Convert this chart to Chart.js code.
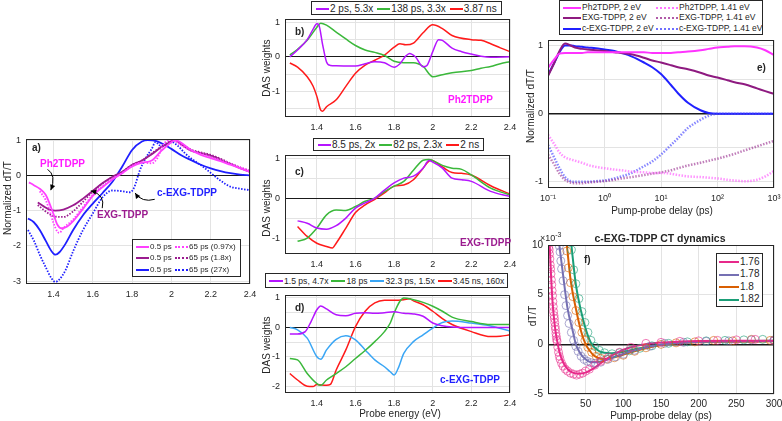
<!DOCTYPE html>
<html lang="en">
<head>
<meta charset="UTF-8">
<title>TDPP transient absorption</title>
<script src="https://cdn.jsdelivr.net/npm/chart.js@4.4.0/dist/chart.umd.min.js"></script>
<style>
    * { margin: 0; padding: 0; box-sizing: border-box; }
    body { background: #fff; font-family: "Liberation Sans", Arial, sans-serif; color: #262626; }
    #fig { position: relative; width: 782px; height: 421px; overflow: hidden; }
    canvas { position: absolute; }
    .t { position: absolute; white-space: nowrap; font-size: 10px; line-height: 1; }
    .c { transform: translate(-50%, -50%); }
    .v { transform: translate(-50%, -50%) rotate(-90deg); }
    .b { font-weight: bold; }
    .lg { position: absolute; border: 1px solid #262626; background: #fff; font-size: 10px;
          display: flex; align-items: center; gap: 4px; padding: 0 4px; white-space: nowrap; }
    .sw { display: inline-block; width: 13px; border-top: 2px solid; vertical-align: middle; margin-right: 1px; }
    .dot { border-top-style: dotted; }
    .grid3 { display: grid; align-items: center; }
</style>
</head>
<body>
<div id="fig">
    <canvas id="ca"></canvas>
    <canvas id="cb"></canvas>
    <canvas id="cc"></canvas>
    <canvas id="cd"></canvas>
    <canvas id="ce"></canvas>
    <canvas id="cf"></canvas>

    <!-- panel a -->
    <div class="t v" style="left:8px;top:198px">Normalized dT/T</div>
    <div class="t b" style="left:32px;top:143px">a)</div>
    <div class="t b" style="left:40px;top:159px;color:#ff1aff">Ph2TDPP</div>
    <div class="t b" style="left:97px;top:210px;color:#9b1b8f">EXG-TDPP</div>
    <div class="t b" style="left:157px;top:188px;color:#1f1fff">c-EXG-TDPP</div>
    <div class="lg grid3" style="left:132px;top:239px;width:109px;height:38px;font-size:8px;grid-template-columns:auto auto;gap:0 2px;padding:1px 3px">
        <span><i class="sw" style="border-color:#ff40ff"></i>0.5 ps</span><span><i class="sw dot" style="border-color:#ff40ff"></i>65 ps (0.97x)</span>
        <span><i class="sw" style="border-color:#9b1b8f"></i>0.5 ps</span><span><i class="sw dot" style="border-color:#9b1b8f"></i>65 ps (1.8x)</span>
        <span><i class="sw" style="border-color:#1f1fff"></i>0.5 ps</span><span><i class="sw dot" style="border-color:#1f1fff"></i>65 ps (27x)</span>
    </div>

    <!-- panels b, c, d -->
    <div class="lg" style="left:311px;top:1px;height:14px">
        <span><i class="sw" style="border-color:#b515ff"></i>2 ps, 5.3x</span>
        <span><i class="sw" style="border-color:#3bb83b"></i>138 ps, 3.3x</span>
        <span><i class="sw" style="border-color:#ff1a1a"></i>3.87 ns</span>
    </div>
    <div class="t v" style="left:267px;top:68px">DAS weights</div>
    <div class="t b" style="left:295px;top:27px">b)</div>
    <div class="t b" style="left:448px;top:95px;color:#ff1aff">Ph2TDPP</div>

    <div class="lg" style="left:313px;top:138px;height:13px">
        <span><i class="sw" style="border-color:#b515ff"></i>8.5 ps, 2x</span>
        <span><i class="sw" style="border-color:#3bb83b"></i>82 ps, 2.3x</span>
        <span><i class="sw" style="border-color:#ff1a1a"></i>2 ns</span>
    </div>
    <div class="t v" style="left:267px;top:208px">DAS weights</div>
    <div class="t b" style="left:295px;top:167px">c)</div>
    <div class="t b" style="left:460px;top:238px;color:#9b1b8f">EXG-TDPP</div>

    <div class="lg" style="left:265px;top:273px;height:15px;font-size:8.6px;gap:3px;padding:0 3px">
        <span><i class="sw" style="width:14px;border-color:#b515ff"></i>1.5 ps, 4.7x</span>
        <span><i class="sw" style="width:14px;border-color:#3bb83b"></i>18 ps</span>
        <span><i class="sw" style="width:14px;border-color:#3aa6f5"></i>32.3 ps, 1.5x</span>
        <span><i class="sw" style="width:14px;border-color:#ff1a1a"></i>3.45 ns, 160x</span>
    </div>
    <div class="t v" style="left:267px;top:345px">DAS weights</div>
    <div class="t b" style="left:295px;top:303px">d)</div>
    <div class="t b" style="left:440px;top:375px;color:#1f1fff">c-EXG-TDPP</div>
    <div class="t c" style="left:400px;top:414px">Probe energy (eV)</div>

    <!-- panel e -->
    <div class="lg grid3" style="left:559px;top:0px;width:204px;height:35px;font-size:8.5px;grid-template-columns:93px auto;gap:0 0;padding:1px 3px">
        <span><i class="sw" style="width:18px;border-color:#ff33ff"></i>Ph2TDPP, 2 eV</span><span><i class="sw dot" style="width:22px;border-color:#ff77ff"></i>Ph2TDPP, 1.41 eV</span>
        <span><i class="sw" style="width:18px;border-color:#8e1a80"></i>EXG-TDPP, 2 eV</span><span><i class="sw dot" style="width:22px;border-color:#b05aa8"></i>EXG-TDPP, 1.41 eV</span>
        <span><i class="sw" style="width:18px;border-color:#2020ff"></i>c-EXG-TDPP, 2 eV</span><span><i class="sw dot" style="width:22px;border-color:#6f6fff"></i>c-EXG-TDPP, 1.41 eV</span>
    </div>
    <div class="t v" style="left:531px;top:106px">Normalized dT/T</div>
    <div class="t b" style="left:757px;top:63px">e)</div>
    <div class="t c" style="left:662px;top:211px">Pump-probe delay (ps)</div>

    <!-- panel f -->
    <div class="t c b" style="left:660px;top:238px;font-size:10.5px">c-EXG-TDPP CT dynamics</div>
    <div class="t" style="left:540px;top:231px;font-size:9px">×10<sup style="font-size:7px">-3</sup></div>
    <div class="t v" style="left:533px;top:316px">dT/T</div>
    <div class="t b" style="left:584px;top:255px">f)</div>
    <div class="lg grid3" style="left:716px;top:253px;width:47px;height:54px;gap:0;padding:1px 2px;grid-template-rows:repeat(4,1fr)">
        <span><i class="sw" style="width:20px;border-color:#e7298a"></i>1.76</span>
        <span><i class="sw" style="width:20px;border-color:#7570b3"></i>1.78</span>
        <span><i class="sw" style="width:20px;border-color:#d95f02"></i>1.8</span>
        <span><i class="sw" style="width:20px;border-color:#1b9e77"></i>1.82</span>
    </div>
    <div class="t c" style="left:661px;top:416px">Pump-probe delay (ps)</div>
</div>

<script>
// ---------- panel a: normalized spectra (probe energy, eV) ----------
const aPh2X  = [1.275, 1.3, 1.33, 1.36, 1.38, 1.4, 1.42, 1.44, 1.47, 1.5, 1.55, 1.6, 1.65, 1.7, 1.75, 1.8, 1.85, 1.9, 1.95, 2.0, 2.02, 2.05, 2.1, 2.15, 2.2, 2.25, 2.3, 2.35, 2.4];
const aPh2Y  = [-0.2, -0.28, -0.38, -0.55, -0.8, -1.1, -1.4, -1.5, -1.45, -1.3, -0.95, -0.58, -0.33, -0.12, 0.06, 0.25, 0.36, 0.42, 0.7, 0.94, 1.0, 0.92, 0.72, 0.58, 0.49, 0.4, 0.3, 0.2, 0.1];
const aPh2dX = [1.33, 1.36, 1.38, 1.4, 1.42, 1.43, 1.45, 1.5, 1.55, 1.6, 1.65, 1.7, 1.75, 1.8, 1.85, 1.9, 1.93, 1.96, 2.0, 2.05, 2.1, 2.15, 2.2, 2.25, 2.3, 2.35, 2.4];
const aPh2dY = [-0.45, -0.7, -1.0, -1.35, -1.6, -1.63, -1.5, -1.25, -0.9, -0.55, -0.3, -0.1, 0.07, 0.27, 0.37, 0.34, 0.5, 0.88, 1.0, 0.85, 0.7, 0.62, 0.52, 0.43, 0.33, 0.23, 0.14];
const aExgX  = [1.32, 1.35, 1.38, 1.41, 1.45, 1.5, 1.55, 1.6, 1.65, 1.7, 1.75, 1.8, 1.85, 1.9, 1.95, 2.0, 2.02, 2.05, 2.1, 2.15, 2.2, 2.25, 2.3, 2.35, 2.4];
const aExgY  = [-0.77, -0.88, -0.97, -1.0, -0.97, -0.85, -0.66, -0.44, -0.22, -0.04, 0.1, 0.3, 0.42, 0.6, 0.8, 0.96, 0.99, 0.88, 0.7, 0.63, 0.56, 0.45, 0.32, 0.2, 0.1];
const aExgdY = [-0.84, -0.98, -1.1, -1.17, -1.18, -1.02, -0.75, -0.46, -0.23, -0.05, 0.1, 0.3, 0.42, 0.62, 0.82, 0.98, 1.0, 0.9, 0.73, 0.65, 0.58, 0.47, 0.34, 0.22, 0.12];
const aCexX  = [1.27, 1.3, 1.33, 1.36, 1.39, 1.41, 1.43, 1.46, 1.5, 1.55, 1.6, 1.65, 1.7, 1.75, 1.8, 1.85, 1.88, 1.92, 1.96, 2.0, 2.05, 2.1, 2.15, 2.2, 2.25, 2.3, 2.35, 2.4];
const aCexY  = [-1.22, -1.33, -1.55, -1.85, -2.15, -2.25, -2.18, -1.95, -1.55, -1.13, -0.8, -0.5, -0.18, 0.25, 0.72, 0.96, 1.0, 0.98, 0.88, 0.75, 0.57, 0.43, 0.3, 0.2, 0.12, 0.06, 0.02, 0.0];
const aCexdX = [1.27, 1.3, 1.33, 1.36, 1.39, 1.41, 1.43, 1.46, 1.5, 1.55, 1.6, 1.65, 1.7, 1.75, 1.79, 1.81, 1.84, 1.87, 1.9, 1.92, 1.94, 1.97, 2.0, 2.03, 2.07, 2.1, 2.15, 2.2, 2.25, 2.3, 2.35, 2.4];
const aCexdY = [-1.55, -1.85, -2.25, -2.6, -2.92, -3.02, -2.95, -2.7, -2.15, -1.55, -1.08, -0.62, -0.43, -0.45, -0.48, -0.35, 0.15, 0.5, 0.75, 0.95, 0.85, 0.85, 0.95, 0.85, 0.62, 0.48, 0.29, 0.07, -0.15, -0.32, -0.38, -0.42];

// ---------- panel b: Ph2TDPP DAS ----------
const bPurX = [1.26, 1.3, 1.35, 1.38, 1.4, 1.41, 1.43, 1.45, 1.47, 1.5, 1.6, 1.65, 1.7, 1.75, 1.8, 1.83, 1.86, 1.88, 1.91, 1.95, 1.97, 2.0, 2.03, 2.05, 2.1, 2.15, 2.2, 2.25, 2.3, 2.4];
const bPurY = [0.0, 0.2, 0.5, 0.8, 0.96, 0.93, 0.35, -0.15, -0.25, -0.26, -0.27, -0.2, -0.14, -0.17, -0.3, -0.2, 0.02, 0.1, 0.0, -0.29, -0.25, 0.15, 0.5, 0.48, 0.25, 0.15, 0.08, 0.02, -0.01, 0.0];
const bGrnX = [1.26, 1.3, 1.35, 1.4, 1.42, 1.45, 1.5, 1.55, 1.6, 1.65, 1.7, 1.75, 1.8, 1.85, 1.9, 1.95, 2.0, 2.05, 2.1, 2.2, 2.25, 2.3, 2.35, 2.4];
const bGrnY = [0.05, 0.22, 0.48, 0.86, 0.98, 0.92, 0.72, 0.52, 0.33, 0.2, 0.13, 0.04, -0.13, -0.17, -0.17, -0.28, -0.58, -0.52, -0.46, -0.4, -0.33, -0.28, -0.2, -0.14];
const bRedX = [1.26, 1.3, 1.35, 1.38, 1.4, 1.42, 1.43, 1.45, 1.5, 1.55, 1.6, 1.65, 1.7, 1.75, 1.8, 1.83, 1.86, 1.9, 1.95, 2.0, 2.05, 2.1, 2.2, 2.25, 2.3, 2.35, 2.4];
const bRedY = [-0.18, -0.3, -0.58, -0.85, -1.15, -1.55, -1.58, -1.45, -1.25, -0.86, -0.48, -0.24, -0.1, 0.05, 0.28, 0.38, 0.35, 0.4, 0.7, 0.93, 0.82, 0.62, 0.5, 0.48, 0.38, 0.26, 0.15];

// ---------- panel c: EXG-TDPP DAS ----------
const cX    = [1.3, 1.35, 1.4, 1.45, 1.5, 1.55, 1.6, 1.65, 1.7, 1.75, 1.8, 1.85, 1.9, 1.95, 1.98, 2.0, 2.05, 2.1, 2.15, 2.2, 2.3, 2.4];
const cPurY = [-0.57, -0.63, -0.75, -0.78, -0.69, -0.5, -0.25, -0.12, 0.0, 0.2, 0.38, 0.5, 0.55, 0.75, 0.94, 0.9, 0.75, 0.5, 0.46, 0.42, 0.17, 0.04];
const cGrnY = [-1.08, -1.0, -0.75, -0.42, -0.3, -0.31, -0.21, -0.08, 0.0, 0.16, 0.3, 0.42, 0.7, 0.95, 0.97, 0.94, 0.82, 0.75, 0.72, 0.58, 0.25, 0.08];
const cRedX = [1.3, 1.35, 1.4, 1.45, 1.48, 1.5, 1.55, 1.6, 1.65, 1.7, 1.75, 1.8, 1.85, 1.9, 1.95, 1.99, 2.05, 2.1, 2.15, 2.2, 2.3, 2.4];
const cRedY = [-0.71, -0.96, -1.13, -1.21, -1.25, -1.13, -0.75, -0.36, -0.17, -0.03, 0.13, 0.3, 0.33, 0.46, 0.75, 0.95, 0.78, 0.64, 0.62, 0.58, 0.31, 0.1];

// ---------- panel d: c-EXG-TDPP DAS ----------
const dPurX = [1.26, 1.3, 1.34, 1.37, 1.4, 1.42, 1.45, 1.5, 1.55, 1.6, 1.65, 1.7, 1.75, 1.8, 1.85, 1.9, 1.95, 2.0, 2.05, 2.1, 2.2, 2.3, 2.4];
const dPurY = [-0.22, -0.22, -0.14, 0.2, 0.6, 0.73, 0.63, 0.43, 0.4, 0.48, 0.5, 0.48, 0.5, 0.53, 0.48, 0.46, 0.38, 0.15, 0.06, 0.02, 0.0, 0.0, 0.0];
const dGrnX = [1.26, 1.3, 1.35, 1.4, 1.42, 1.45, 1.5, 1.55, 1.6, 1.65, 1.7, 1.75, 1.78, 1.8, 1.83, 1.85, 1.9, 1.95, 2.0, 2.05, 2.1, 2.2, 2.3, 2.4];
const dGrnY = [-1.05, -1.1, -1.56, -1.9, -1.96, -1.78, -1.56, -1.33, -1.05, -0.78, -0.48, -0.14, 0.15, 0.49, 0.89, 1.0, 0.94, 0.85, 0.72, 0.55, 0.35, 0.2, 0.1, 0.1];
const dBluX = [1.26, 1.3, 1.35, 1.4, 1.42, 1.45, 1.5, 1.55, 1.6, 1.65, 1.7, 1.75, 1.78, 1.8, 1.82, 1.85, 1.9, 1.95, 2.0, 2.05, 2.1, 2.2, 2.3, 2.4];
const dBluY = [0.0, -0.08, -0.36, -0.99, -1.08, -0.76, -0.4, -0.28, -0.42, -0.76, -1.1, -1.33, -1.5, -1.61, -1.4, -0.88, -0.48, -0.25, -0.02, 0.17, 0.22, 0.15, 0.05, -0.12];
const dRedX = [1.26, 1.3, 1.35, 1.38, 1.4, 1.45, 1.47, 1.5, 1.55, 1.6, 1.65, 1.7, 1.75, 1.8, 1.85, 1.88, 1.9, 1.95, 2.0, 2.05, 2.1, 2.2, 2.3, 2.35, 2.4];
const dRedY = [-1.56, -1.78, -1.99, -2.0, -1.93, -1.96, -1.93, -1.44, -0.76, 0.03, 0.55, 0.83, 0.92, 0.92, 0.94, 0.97, 0.9, 0.77, 0.55, 0.3, 0.1, -0.14, -0.31, -0.3, -0.25];

// ---------- panel e: kinetics (ps, log axis) ----------
const eT      = [0.1, 0.13, 0.16, 0.2, 0.25, 0.3, 0.4, 0.5, 0.7, 1, 1.5, 2, 3, 5, 7, 10, 15, 20, 30, 50, 70, 100, 150, 200, 300, 500, 700, 1000];
const ePh2    = [0.67, 0.8, 0.88, 0.89, 0.89, 0.89, 0.89, 0.9, 0.9, 0.9, 0.9, 0.9, 0.9, 0.9, 0.89, 0.89, 0.89, 0.9, 0.91, 0.93, 0.95, 0.97, 0.98, 0.99, 0.99, 0.97, 0.93, 0.86];
const eExg    = [0.55, 0.75, 0.92, 1.03, 1.0, 0.97, 0.95, 0.94, 0.93, 0.92, 0.9, 0.89, 0.87, 0.82, 0.78, 0.75, 0.71, 0.68, 0.65, 0.6, 0.56, 0.53, 0.49, 0.46, 0.43, 0.37, 0.33, 0.29];
const eCex    = [0.57, 0.75, 0.9, 1.0, 1.0, 0.99, 0.98, 0.97, 0.96, 0.94, 0.92, 0.89, 0.84, 0.75, 0.68, 0.58, 0.42, 0.3, 0.16, 0.05, 0.01, 0.0, 0.0, 0.0, 0.0, 0.0, 0.0, 0.0];
const ePh2Low = [-0.31, -0.45, -0.57, -0.64, -0.67, -0.69, -0.72, -0.75, -0.78, -0.8, -0.82, -0.83, -0.85, -0.86, -0.87, -0.87, -0.88, -0.9, -0.92, -0.93, -0.94, -0.95, -0.97, -0.98, -0.99, -0.97, -0.92, -0.84];
const eExgLow = [-0.6, -0.75, -0.88, -0.97, -1.01, -1.02, -1.02, -1.01, -1.0, -0.99, -0.97, -0.95, -0.93, -0.9, -0.88, -0.86, -0.83, -0.8, -0.76, -0.72, -0.69, -0.66, -0.62, -0.59, -0.54, -0.48, -0.44, -0.4];
const eCexLow = [-0.46, -0.65, -0.8, -0.93, -0.99, -1.0, -1.0, -1.0, -0.99, -0.98, -0.95, -0.92, -0.87, -0.77, -0.7, -0.6, -0.46, -0.36, -0.21, -0.09, -0.03, 0.0, 0.0, 0.0, 0.0, 0.0, 0.0, 0.0];

// ---------- panel f: CT dynamics (dT/T in units of 1e-3) ----------
const f176FitX = [1, 2, 4, 6, 8, 10, 13, 16, 20, 25, 30, 40, 50, 60, 70, 80, 90, 100, 110, 125, 150, 175, 200, 250, 300];
const f176FitY = [12, 10.5, 7, 4.3, 2.6, 1.3, 0, -1, -1.8, -2.4, -2.75, -2.95, -2.85, -2.45, -1.9, -1.35, -0.9, -0.55, -0.3, -0.05, 0.18, 0.28, 0.33, 0.36, 0.37];
const f178FitX = [12, 15, 20, 26, 33, 37, 42, 46, 50, 55, 64, 77, 95, 117, 139, 166, 210, 300];
const f178FitY = [12, 10, 7, 3.6, 1.3, 0, -0.8, -1.24, -1.5, -1.75, -1.8, -1.58, -1.07, -0.57, -0.17, 0.1, 0.27, 0.33];
const f180FitX = [22, 25, 30, 37, 44, 50, 55, 60, 66, 73, 86, 108, 130, 157, 197, 250, 300];
const f180FitY = [12, 10, 6.5, 3.6, 1.3, 0, -0.6, -1.07, -1.35, -1.48, -1.34, -0.84, -0.4, 0, 0.2, 0.27, 0.3];
const f182FitX = [28, 31, 37, 44, 51, 58, 63, 69, 82, 100, 122, 148, 175, 220, 300];
const f182FitY = [12, 10, 6, 3.3, 1.3, 0, -0.4, -0.74, -0.9, -0.74, -0.4, -0.07, 0.17, 0.3, 0.35];

const f176X = [1, 1.5, 2, 2.5, 3, 3.5, 4, 4.5, 5, 5.5, 6, 6.5, 7, 7.5, 8, 8.5, 9, 9.5, 10, 10.5, 11, 11.5, 12, 13, 14, 15, 16, 18, 20, 23, 26, 30, 34, 38, 42, 46, 50, 55, 62, 70, 80, 95, 110, 130, 150, 175, 200, 225, 250, 275, 300];
const f176Y = [9.8, 9.5, 9.1, 8.6, 8.0, 7.6, 7.1, 6.5, 6.0, 5.4, 4.9, 4.3, 3.8, 3.3, 2.9, 2.6, 2.2, 1.8, 1.5, 1.1, 0.8, 0.5, 0.3, -0.3, -0.8, -1.2, -1.5, -1.9, -2.2, -2.5, -2.7, -2.9, -3.0, -3.1, -3.0, -2.9, -2.7, -2.5, -2.1, -1.7, -1.3, -0.8, -0.3, 0.1, 0.2, 0.3, 0.35, 0.4, 0.45, 0.5, 0.4];
const f178X = [15, 16, 17, 18, 20, 22, 24, 26, 28, 31, 34, 37, 40, 44, 48, 52, 57, 63, 70, 80, 90, 100, 115, 135, 155, 180, 210, 240, 270, 300];
const f178Y = [9.9, 9.3, 8.4, 7.6, 6.4, 5.0, 3.9, 2.9, 2.1, 1.2, 0.4, -0.2, -0.7, -1.2, -1.5, -1.7, -1.85, -1.9, -1.8, -1.5, -1.25, -1.0, -0.6, -0.2, 0.1, 0.2, 0.3, 0.35, 0.45, 0.35];
const f180X = [25, 27, 30, 33, 37, 41, 45, 49, 53, 58, 64, 70, 78, 88, 100, 115, 130, 150, 170, 195, 220, 245, 270, 295];
const f180Y = [9.4, 7.7, 6.2, 4.8, 3.4, 2.2, 1.2, 0.4, -0.3, -0.8, -1.2, -1.4, -1.5, -1.35, -1.1, -0.7, -0.35, 0.0, 0.15, 0.25, 0.4, 0.35, 0.5, 0.4];
const f182X = [31, 34, 37, 41, 45, 49, 53, 57, 62, 68, 75, 85, 95, 108, 122, 138, 160, 185, 210, 235, 260, 285, 300];
const f182Y = [9.5, 7.5, 6.1, 4.6, 3.3, 2.2, 1.2, 0.4, -0.2, -0.6, -0.85, -0.95, -0.85, -0.65, -0.4, -0.15, 0.1, 0.25, 0.35, 0.4, 0.45, 0.5, 0.45];

// ---------- ticks ----------
const energyTicks = [1.4, 1.6, 1.8, 2.0, 2.2, 2.4];
const aYTicks = [-3, -2, -1, 0, 1];
const bYTicks = [-1.5, -1, -0.5, 0, 0.5, 1];
const cYTicks = [-1, -0.5, 0, 0.5, 1];
const dYTicks = [-2, -1.5, -1, -0.5, 0, 0.5, 1];
const eYTicks = [-1, -0.5, 0, 0.5, 1];
const eXTicks = [0.1, 1, 10, 100, 1000];
const eXLabels = ['10⁻¹', '10⁰', '10¹', '10²', '10³'];
const fXTicks = [50, 100, 150, 200, 250, 300];
const fYTicks = [-5, 0, 5, 10];

const FONT = '"Liberation Sans", Arial, sans-serif';
Chart.defaults.font.family = FONT;

const LY = 24, PT = 8, PR = 14, HX = 18;

const pts = (xs, ys) => xs.map((x, i) => ({ x: x, y: ys[i] }));

function curve(xs, ys, color, width, dash) {
    return {
        data: pts(xs, ys), borderColor: color, borderWidth: width, borderDash: dash || [],
        pointRadius: 0, fill: false, tension: 0.3, cubicInterpolationMode: 'monotone'
    };
}

function circles(xs, ys, color) {
    return {
        data: pts(xs, ys), showLine: false, pointRadius: 4, pointBorderWidth: 1,
        pointBorderColor: color, pointBackgroundColor: 'rgba(0,0,0,0)', borderColor: color
    };
}

function axis(type, min, max, ticks, fmt, isX, size, pad, zeroW) {
    return {
        type: type, min: min, max: max,
        afterBuildTicks: s => { s.ticks = ticks.map(v => ({ value: v })); },
        afterFit: s => {
            if (isX) s.height = HX; else s.width = LY;
            s.paddingLeft = s.paddingRight = s.paddingTop = s.paddingBottom = 0;
        },
        ticks: { callback: (v, i) => fmt(v, i), font: { size: size }, color: '#262626',
                 padding: pad, maxRotation: 0, autoSkip: false },
        grid: {
            drawTicks: false,
            color: c => (!isX && c.tick && c.tick.value === 0) ? '#1a1a1a' : '#e3e3e3',
            lineWidth: c => (!isX && c.tick && c.tick.value === 0) ? zeroW : 1
        },
        border: { display: false }
    };
}

const intOnly = v => Number.isInteger(v) ? String(v) : '';
const eLabel = v => String(v);

// frame round the plot area, like a boxed axis
const boxPlugin = {
    id: 'box',
    afterDraw(chart) {
        const { ctx, chartArea: a } = chart;
        ctx.save();
        ctx.strokeStyle = '#262626';
        ctx.lineWidth = 1;
        ctx.strokeRect(Math.round(a.left) + 0.5, Math.round(a.top) + 0.5,
                       Math.round(a.right - a.left) - 1, Math.round(a.bottom - a.top) - 1);
        ctx.restore();
    }
};

// curved arrows pointing from the labels in panel a to their curves
const aArrows = [
    { from: [1.37, 0.17], ctrl: [1.415, 0.0], to: [1.386, -0.42] },
    { from: [1.648, -0.93], ctrl: [1.665, -0.55], to: [1.59, -0.44] },
    { from: [1.915, -0.68], ctrl: [1.85, -0.78], to: [1.815, -0.5] }
];
const arrowPlugin = {
    id: 'arrows',
    afterDatasetsDraw(chart) {
        const { ctx, scales: { x, y } } = chart;
        ctx.save();
        ctx.strokeStyle = '#000';
        ctx.fillStyle = '#000';
        ctx.lineWidth = 1;
        aArrows.forEach(a => {
            const p0 = [x.getPixelForValue(a.from[0]), y.getPixelForValue(a.from[1])];
            const pc = [x.getPixelForValue(a.ctrl[0]), y.getPixelForValue(a.ctrl[1])];
            const p1 = [x.getPixelForValue(a.to[0]), y.getPixelForValue(a.to[1])];
            ctx.beginPath();
            ctx.moveTo(p0[0], p0[1]);
            ctx.quadraticCurveTo(pc[0], pc[1], p1[0], p1[1]);
            ctx.stroke();
            const ang = Math.atan2(p1[1] - pc[1], p1[0] - pc[0]);
            ctx.beginPath();
            ctx.moveTo(p1[0], p1[1]);
            ctx.lineTo(p1[0] - 6 * Math.cos(ang - 0.45), p1[1] - 6 * Math.sin(ang - 0.45));
            ctx.lineTo(p1[0] - 6 * Math.cos(ang + 0.45), p1[1] - 6 * Math.sin(ang + 0.45));
            ctx.closePath();
            ctx.fill();
        });
        ctx.restore();
    }
};

function panel(id, area, xScale, yScale, datasets, extra) {
    const cv = document.getElementById(id);
    const w = area.r - area.l + LY + PR;
    const h = area.b - area.t + PT + HX;
    cv.style.left = (area.l - LY) + 'px';
    cv.style.top = (area.t - PT) + 'px';
    cv.width = w; cv.height = h;
    cv.style.width = w + 'px'; cv.style.height = h + 'px';
    return new Chart(cv, {
        type: 'line',
        data: { datasets: datasets },
        options: {
            responsive: false, animation: false, devicePixelRatio: 1,
            layout: { padding: { left: 0, right: PR, top: PT, bottom: 0 } },
            plugins: { legend: { display: false }, tooltip: { enabled: false } },
            scales: { x: xScale, y: yScale }
        },
        plugins: [boxPlugin].concat(extra || [])
    });
}

const PH2 = '#ff40ff', EXG = '#9b1b8f', CEX = '#1f1fff';
const PUR = '#b515ff', GRN = '#3bb83b', RED = '#ff1a1a', LBL = '#3aa6f5';
const DOT = [1.5, 1.5];

// panel a
panel('ca', { l: 26, r: 250, t: 139, b: 284 },
    axis('linear', 1.26, 2.4, energyTicks, eLabel, true, 9, 5),
    axis('linear', -3.08, 1.03, aYTicks, intOnly, false, 9, 5, 1),
    [
        curve(aPh2X, aPh2Y, PH2, 1.8),
        curve(aPh2dX, aPh2dY, PH2, 1.8, DOT),
        curve(aExgX, aExgY, EXG, 1.8),
        curve(aExgX, aExgdY, EXG, 1.8, DOT),
        curve(aCexX, aCexY, CEX, 1.8),
        curve(aCexdX, aCexdY, CEX, 1.8, DOT)
    ], [arrowPlugin]);

// panel b
panel('cb', { l: 285, r: 510, t: 19, b: 117 },
    axis('linear', 1.235, 2.4, energyTicks, eLabel, true, 9, 5),
    axis('linear', -1.75, 1.1, bYTicks, intOnly, false, 9, 5, 1),
    [curve(bPurX, bPurY, PUR, 1.5), curve(bGrnX, bGrnY, GRN, 1.5), curve(bRedX, bRedY, RED, 1.5)]);

// panel c
panel('cc', { l: 285, r: 510, t: 155, b: 254 },
    axis('linear', 1.235, 2.4, energyTicks, eLabel, true, 9, 5),
    axis('linear', -1.4, 1.08, cYTicks, intOnly, false, 9, 5, 1),
    [curve(cX, cPurY, PUR, 1.5), curve(cX, cGrnY, GRN, 1.5), curve(cRedX, cRedY, RED, 1.5)]);

// panel d
panel('cd', { l: 285, r: 510, t: 295, b: 393 },
    axis('linear', 1.235, 2.4, energyTicks, eLabel, true, 9, 5),
    axis('linear', -2.22, 1.1, dYTicks, intOnly, false, 9, 5, 1),
    [curve(dPurX, dPurY, PUR, 1.5), curve(dGrnX, dGrnY, GRN, 1.5),
     curve(dBluX, dBluY, LBL, 1.5), curve(dRedX, dRedY, RED, 1.5)]);

// panel e
panel('ce', { l: 548, r: 774, t: 40, b: 188 },
    axis('logarithmic', 0.1, 1000, eXTicks, (v, i) => eXLabels[i], true, 9, 5),
    axis('linear', -1.09, 1.08, eYTicks, intOnly, false, 9, 5, 1.5),
    [
        curve(eT, ePh2Low, 'rgba(255,90,255,0.65)', 2.5, DOT),
        curve(eT, eExgLow, 'rgba(150,40,140,0.6)', 2.5, DOT),
        curve(eT, eCexLow, 'rgba(70,70,255,0.65)', 2.5, DOT),
        curve(eT, ePh2, '#ff33ff', 2),
        curve(eT, eExg, '#8e1a80', 2),
        curve(eT, eCex, '#2020ff', 2)
    ]);

// panel f
panel('cf', { l: 548, r: 774, t: 245, b: 394 },
    axis('linear', 0, 300, fXTicks, eLabel, true, 10, 4),
    axis('linear', -5, 10, fYTicks, eLabel, false, 10, 5, 1.5),
    [
        circles(f176X, f176Y, 'rgba(231,41,138,0.6)'),
        circles(f178X, f178Y, 'rgba(117,112,179,0.6)'),
        circles(f180X, f180Y, 'rgba(217,95,2,0.6)'),
        circles(f182X, f182Y, 'rgba(27,158,119,0.6)'),
        curve(f176FitX, f176FitY, '#e7298a', 2),
        curve(f178FitX, f178FitY, '#7570b3', 2),
        curve(f180FitX, f180FitY, '#d95f02', 2),
        curve(f182FitX, f182FitY, '#1b9e77', 2)
    ]);
</script>
</body>
</html>
